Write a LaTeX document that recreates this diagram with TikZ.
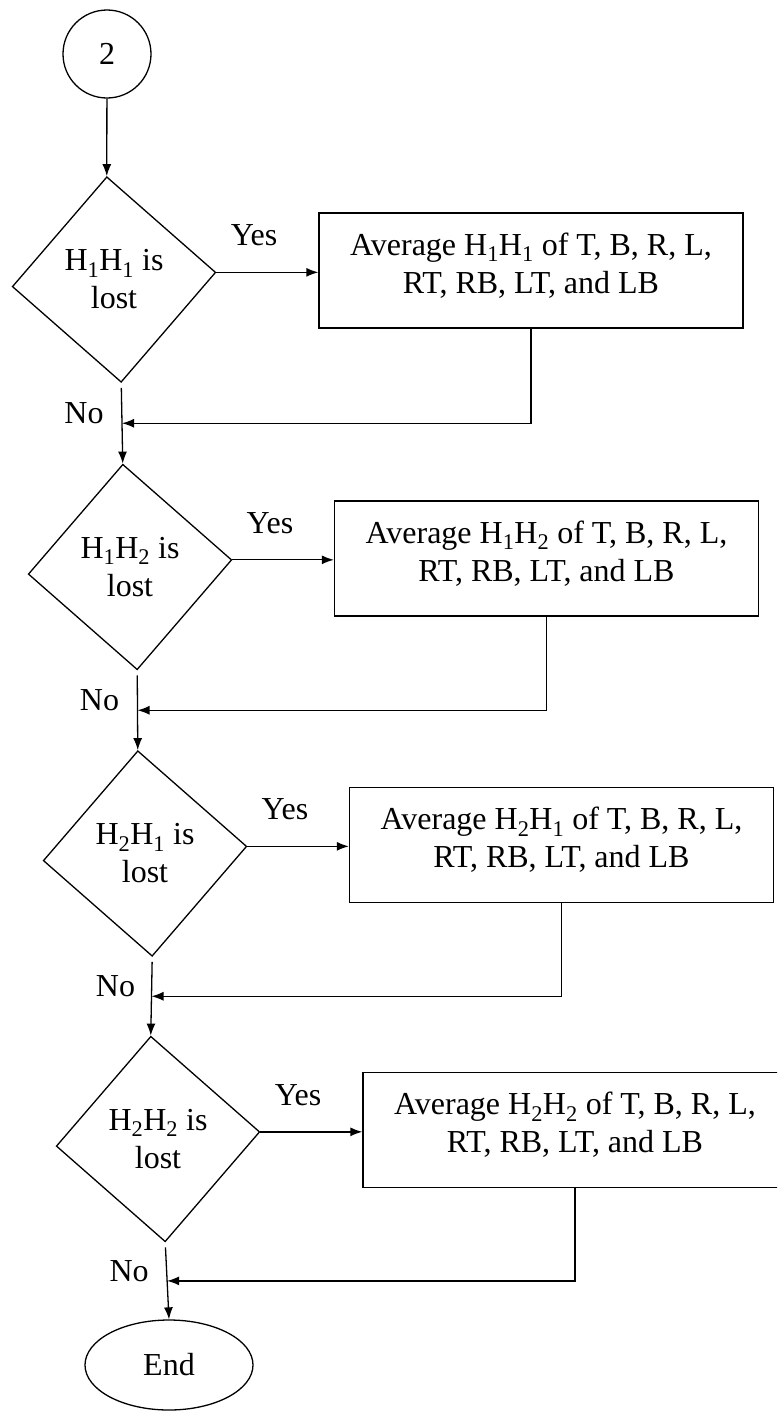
\documentclass[tikz,border=0pt]{standalone}
\usepackage{fontspec}
\setmainfont{Liberation Serif}
\usetikzlibrary{shapes.geometric,arrows.meta,calc}
\begin{document}
\begin{tikzpicture}[x=1pt,y=-1pt,
  every node/.style={font=\fontsize{32}{38}\selectfont},
  arr/.style={line width=1.3pt,-{Latex[length=12pt,width=9pt]}},
  dec/.style={diamond,draw,line width=1.3pt,minimum width=204pt,minimum height=206pt,inner sep=0pt,rotate=4},
  txt/.style={align=center,inner sep=0pt},
  proc/.style={rectangle,draw,line width=1.3pt,minimum width=424pt,minimum height=115pt,inner sep=0pt},
  ptxt/.style={align=center,inner sep=0pt},
  term/.style={ellipse,draw,line width=1.3pt,minimum width=168pt,minimum height=90pt,inner sep=0pt},
  conn/.style={circle,draw,line width=1.3pt,minimum size=88pt,inner sep=0pt},
  lbl/.style={inner sep=0pt}
]
\useasboundingbox (0,0) rectangle (777,1411);
\clip (0,0) rectangle (777,1411);

% connector circle
\node[conn] (c2) at (107,54) {2};

% decisions
\node[dec] (d1) at (114,279.5) {};
\node[txt] (t1) at (d1.center) {H\textsubscript{1}H\textsubscript{1} is\\lost};
\node[dec] (d2) at (130,567) {};
\node[txt] (t2) at (d2.center) {H\textsubscript{1}H\textsubscript{2} is\\lost};
\node[dec] (d3) at (145,853.5) {};
\node[txt] (t3) at (d3.center) {H\textsubscript{2}H\textsubscript{1} is\\lost};
\node[dec] (d4) at (158,1139) {};
\node[txt] (t4) at (d4.center) {H\textsubscript{2}H\textsubscript{2} is\\lost};

% processes
\node[proc] (b1) at (531,270.5) {};
\node[ptxt] (p1) at ($(b1.center)+(0,-5)$) {Average H\textsubscript{1}H\textsubscript{1} of T, B, R, L,\\RT, RB, LT, and LB};
\node[proc] (b2) at (546.5,558.5) {};
\node[ptxt] (p2) at ($(b2.center)+(0,-5)$) {Average H\textsubscript{1}H\textsubscript{2} of T, B, R, L,\\RT, RB, LT, and LB};
\node[proc] (b3) at (561.5,845) {};
\node[ptxt] (p3) at ($(b3.center)+(0,-5)$) {Average H\textsubscript{2}H\textsubscript{1} of T, B, R, L,\\RT, RB, LT, and LB};
\node[proc] (b4) at (575,1130) {};
\node[ptxt] (p4) at ($(b4.center)+(0,-5)$) {Average H\textsubscript{2}H\textsubscript{2} of T, B, R, L,\\RT, RB, LT, and LB};

% terminal
\node[term] (end) at (169,1365) {End};

% main flow
\draw[arr] (c2) -- (d1.north);
\draw[arr,shorten <=5pt] (d1.south) -- (d2.north);
\draw[arr,shorten <=5pt] (d2.south) -- (d3.north);
\draw[arr,shorten <=5pt] (d3.south) -- (d4.north);
\draw[arr,shorten <=5pt] (d4.south) -- (end.north);

% junctions
\coordinate (j1) at ($(d1.south)!0.5!(d2.north)$);
\coordinate (j2) at ($(d2.south)!0.5!(d3.north)$);
\coordinate (j3) at ($(d3.south)!0.5!(d4.north)$);
\coordinate (j4) at ($(d4.south)!0.5!(end.north)$);

% yes branches
\draw[arr] (d1.east) -- (d1.east -| b1.west) node[lbl,pos=.37,yshift=37pt] (y1) {Yes};
\draw[arr] (d2.east) -- (d2.east -| b2.west) node[lbl,pos=.37,yshift=37pt] (y2) {Yes};
\draw[arr] (d3.east) -- (d3.east -| b3.west) node[lbl,pos=.37,yshift=37pt] (y3) {Yes};
\draw[arr] (d4.east) -- (d4.east -| b4.west) node[lbl,pos=.37,yshift=37pt] (y4) {Yes};

% returns
\draw[arr] (b1.south) -- (b1.south |- j1) -- (j1);
\draw[arr] (b2.south) -- (b2.south |- j2) -- (j2);
\draw[arr] (b3.south) -- (b3.south |- j3) -- (j3);
\draw[arr] (b4.south) -- (b4.south |- j4) -- (j4);

% no labels
\node[lbl] (n1) at ($(j1)+(-38,-10)$) {No};
\node[lbl] (n2) at ($(j2)+(-38,-10)$) {No};
\node[lbl] (n3) at ($(j3)+(-36,-10)$) {No};
\node[lbl] (n4) at ($(j4)+(-38,-10)$) {No};
\end{tikzpicture}
\end{document}
